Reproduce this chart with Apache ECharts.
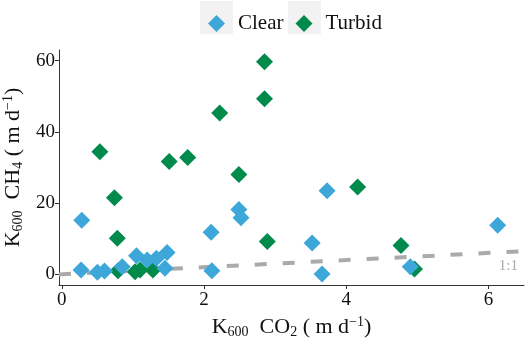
<!DOCTYPE html>
<html><head><meta charset="utf-8">
<script src="https://cdn.jsdelivr.net/npm/echarts@6/dist/echarts.min.js"></script>
<style>html,body{margin:0;padding:0;background:#fff}#c{width:526px;height:341px}</style>
</head><body><div id="c"></div>
<script>
var clearX = [0.28, 2.10, 2.49, 2.52, 0.27, 0.50, 0.60, 0.85, 1.05, 1.20, 1.33, 1.48, 1.45, 2.11, 3.73, 3.52, 3.66, 4.90, 6.13];
var clearY = [15.2, 11.8, 18.2, 15.9, 1.2, 0.6, 0.9, 2.1, 5.2, 4.0, 4.5, 6.1, 1.7, 1.0, 23.5, 8.8, 0.1, 2.1, 13.8];
var turbidX = [2.85, 2.85, 2.22, 0.535, 1.51, 1.77, 2.49, 0.74, 0.78, 2.89, 0.79, 1.03, 1.10, 1.28, 4.16, 4.77, 4.96];
var turbidY = [59.7, 49.3, 45.3, 34.4, 31.7, 32.8, 28.0, 21.5, 10.1, 9.2, 1.0, 0.7, 1.2, 1.2, 24.5, 8.1, 1.5];
var xTicks = [0, 2, 4, 6];
var yTicks = [0, 20, 40, 60];
var oneToOne = [-0.04, 6.5];
var oneToOneLabelPos = [6.28, 2.4];

function pairs(xs, ys){ return xs.map(function(x,i){return [x, ys[i]];}); }
var serif = 'Liberation Serif';
var richT = {sub:{fontSize:14, fontFamily: serif, color:'#111', padding:[10,0,0,0]},
             sup:{fontSize:14, fontFamily: serif, color:'#111', padding:[0,0,10,0]}};
var chart = echarts.init(document.getElementById('c'));
chart.setOption({
  animation: false,
  textStyle: {fontFamily: serif},
  graphic: [
    {type:'rect', shape:{x:200,y:1,width:33,height:33}, style:{fill:'#f2f2f2'}, z:-1},
    {type:'rect', shape:{x:288,y:1,width:33,height:33}, style:{fill:'#f2f2f2'}, z:-1}
  ],
  legend: {
    data: ['Clear','Turbid'],
    left: 203, top: 8,
    icon: 'diamond',
    itemWidth: 17, itemHeight: 17,
    itemGap: 12,
    textStyle: {fontFamily: serif, fontSize: 21, color:'#111', padding:[0,0,0,8]}
  },
  grid: {left: 59, right: 2, top: 50, bottom: 56, containLabel: false, outerBoundsMode: 'none'},
  xAxis: {
    type: 'value', min: -0.04, max: 6.5, interval: 2,
    axisLine: {show:true, onZero:false, lineStyle:{color:'#333'}},
    axisTick: {show:true, length:4, lineStyle:{color:'#333'}, customValues: xTicks},
    splitLine: {show:false},
    axisLabel: {fontFamily: serif, fontSize: 19, color:'#111', margin: 6,
      customValues: xTicks},
    name: 'K{sub|600}  CO{sub|2} ( m d{sup|−1})',
    nameLocation: 'middle', nameGap: 30,
    nameTextStyle: {fontFamily: serif, fontSize: 22, color:'#111', rich: richT}
  },
  yAxis: {
    type: 'value', min: -3, max: 63, interval: 20,
    axisLine: {show:true, onZero:false, lineStyle:{color:'#333'}},
    axisTick: {show:true, length:4, lineStyle:{color:'#333'}, customValues: yTicks},
    splitLine: {show:false},
    axisLabel: {fontFamily: serif, fontSize: 19, color:'#111', margin: 4,
      customValues: yTicks},
    name: 'K{sub|600}  CH{sub|4} ( m d{sup|−1})',
    nameLocation: 'middle', nameGap: 31, nameRotate: 90,
    nameTextStyle: {fontFamily: serif, fontSize: 22, color:'#111', rich: richT}
  },
  series: [
    {
      name: '1:1', type: 'line', silent: true, symbol: 'none', z: 1,
      data: [[oneToOne[0], oneToOne[0]], [oneToOne[1], oneToOne[1]]],
      lineStyle: {color:'#aaaaaa', width: 4, type: [12, 16]},
      markPoint: {
        symbol: 'circle', symbolSize: 0, silent: true,
        label: {show: true, formatter: '1:1', color:'#aaa', fontFamily: serif, fontSize: 15},
        data: [{coord: oneToOneLabelPos}]
      }
    },
    {
      name: 'Clear', type: 'scatter', symbol: 'diamond', symbolSize: 17, z: 3,
      itemStyle: {color: '#3ea7d9', opacity: 1},
      data: pairs(clearX, clearY)
    },
    {
      name: 'Turbid', type: 'scatter', symbol: 'diamond', symbolSize: 17, z: 2,
      itemStyle: {color: '#008a4b', opacity: 1},
      data: pairs(turbidX, turbidY)
    }
  ]
});
</script></body></html>
